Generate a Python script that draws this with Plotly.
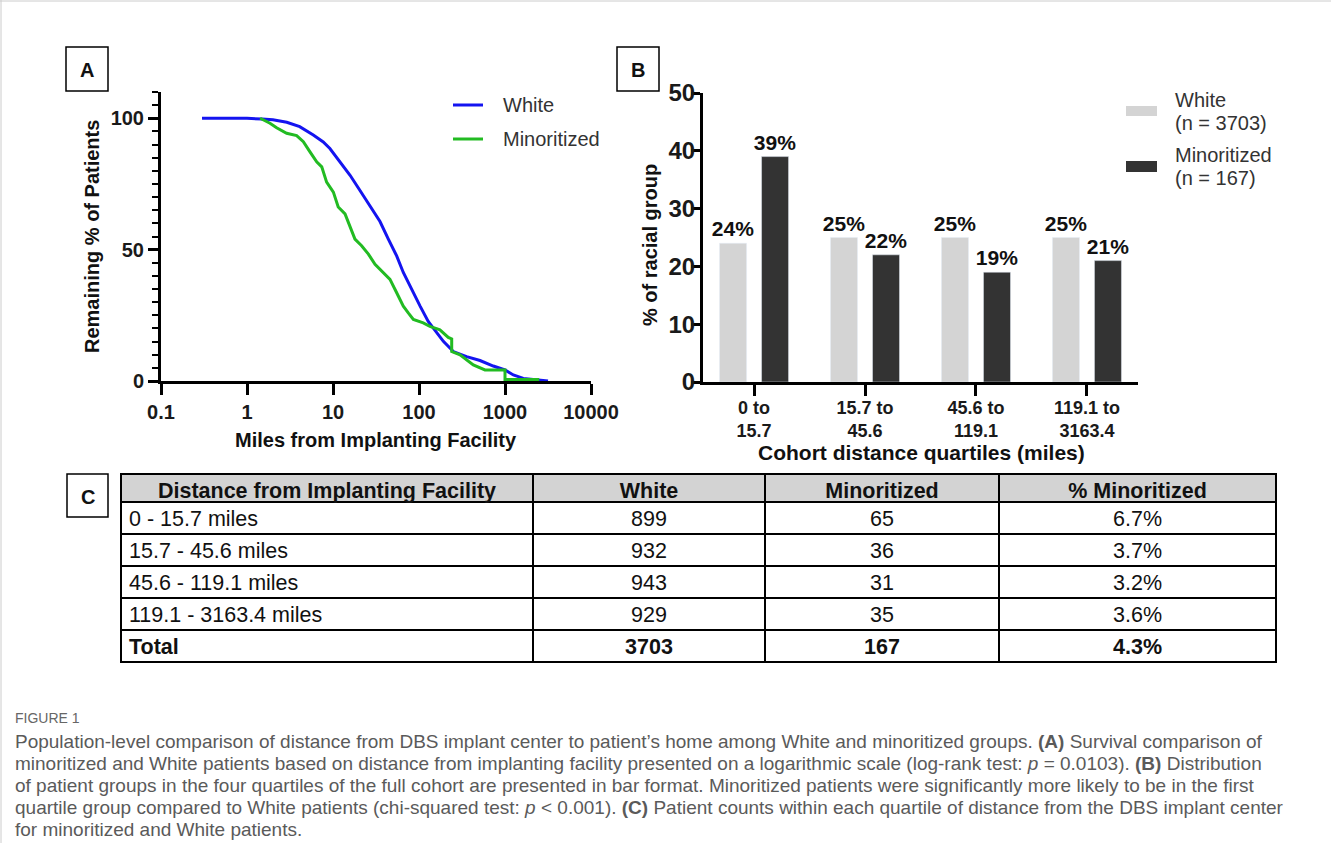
import plotly.graph_objects as go

W, H = 1331, 843
FONT = "Liberation Sans, Arial, sans-serif"

# ---------------- Panel A data (survival-style curves) ----------------
white_miles = [0.3, 1.0, 1.5, 2.0, 2.9, 4.1, 5.9, 7.7, 9.2, 12, 15.8, 20.6, 26.9, 35.2, 44, 55,
               65.7, 82, 103, 128, 153, 192, 251, 358, 512, 731, 1000, 1250, 1634, 3163]
white_pct = [100, 100, 99.7, 99.4, 98.5, 96.8, 93.6, 91, 88.5, 83.4, 78.3, 72.5, 66.8, 60.7, 54, 47.6,
             41.3, 34.9, 28.5, 22.7, 19.5, 15.1, 11.2, 9.3, 7.8, 5.7, 4.2, 2.3, 1.0, 0]
minor_miles = [1.42, 1.85, 2.21, 2.89, 3.78, 4.52, 5.4, 6.46, 7.4, 8.43, 10.1, 11.5, 13.8, 15.8, 18,
               21.5, 25.8, 30.8, 38.5, 46, 55, 65.7, 75, 86, 112, 134, 175, 219, 240, 240, 300, 358,
               428, 585, 955, 1000, 1000, 2500]
minor_pct = [100, 98.1, 96.4, 94.3, 93.4, 91.1, 87.2, 83.4, 81.5, 75.7, 71.9, 66.2, 63.6, 58.5, 54,
             51.5, 48.3, 44.4, 41.3, 38.7, 33.6, 28.5, 25.9, 23.4, 22.1, 20.8, 19.5, 16.6, 16.0, 11.2,
             10, 8, 6.1, 4.2, 4.2, 4.2, 0.6, 0.6]
a_tickvals = [0.1, 1, 10, 100, 1000, 10000]
a_ticktext = ["0.1", "1", "10", "100", "1000", "10000"]

# ---------------- Panel B data ----------------
quartiles = ["0 to<br>15.7", "15.7 to<br>45.6", "45.6 to<br>119.1", "119.1 to<br>3163.4"]
white_share = [24, 25, 25, 25]
minor_share = [39, 22, 19, 21]

# ---------------- Panel C data ----------------
table_header = ["Distance from Implanting Facility", "White", "Minoritized", "% Minoritized"]
dist_labels = ["0 - 15.7 miles", "15.7 - 45.6 miles", "45.6 - 119.1 miles", "119.1 - 3163.4 miles"]
white_counts = [899, 932, 943, 929]
minor_counts = [65, 36, 31, 35]
pct_minor = ["6.7%", "3.7%", "3.2%", "3.6%"]
total_label = "Total"
total_pct = "4.3%"


def px(x):
    return x / W


def py(y):
    return 1 - y / H


fig = go.Figure()

# Panel A traces
fig.add_trace(go.Scatter(x=white_miles, y=white_pct, mode="lines", name="White",
                         line=dict(color="#1414f0", width=3), xaxis="x", yaxis="y",
                         showlegend=False, cliponaxis=False))
fig.add_trace(go.Scatter(x=minor_miles, y=minor_pct, mode="lines", name="Minoritized",
                         line=dict(color="#22bb22", width=3), xaxis="x", yaxis="y",
                         showlegend=False, cliponaxis=False))

# Panel B traces
label_font = dict(family=FONT, size=21, color="#111111", weight="bold")
fig.add_trace(go.Bar(x=quartiles, y=white_share, name="White (n = 3703)", marker_color="#d4d4d4",
                     text=[f"{v}%" for v in white_share], textposition="outside",
                     constraintext="none", textfont=label_font, cliponaxis=False,
                     xaxis="x2", yaxis="y2", showlegend=False))
fig.add_trace(go.Bar(x=quartiles, y=minor_share, name="Minoritized (n = 167)", marker_color="#333333",
                     text=[f"{v}%" for v in minor_share], textposition="outside",
                     constraintext="none", textfont=label_font, cliponaxis=False,
                     xaxis="x2", yaxis="y2", showlegend=False))

# Panel C table: body rows + a separate bold "Total" row
col_widths = [412, 232, 234, 277]
col_align = ["left", "center", "center", "center"]
TX0, TX1 = px(121), px(1276)
HEAD_H, ROW_H = 28, 32
body_top = 474
body_bottom = body_top + HEAD_H + ROW_H * len(dist_labels)
total_row = [total_label, str(sum(white_counts)), str(sum(minor_counts)), total_pct]
line_style = dict(color="black", width=2)

try:
    t_main = go.Table(
        domain=dict(x=[TX0, TX1], y=[py(body_bottom) - 0.01, py(body_top)]),
        columnwidth=col_widths,
        header=dict(values=table_header, fill_color="#d3d3d3", line=line_style,
                    align="center", height=HEAD_H,
                    font=dict(family=FONT, size=21.5, color="#111111", weight="bold")),
        cells=dict(values=[dist_labels, [str(v) for v in white_counts],
                           [str(v) for v in minor_counts], pct_minor],
                   fill_color="white", line=line_style, align=col_align, height=ROW_H,
                   font=dict(family=FONT, size=21.5, color="#111111")))
    t_total = go.Table(
        domain=dict(x=[TX0, TX1], y=[0.1, py(body_bottom)]),
        columnwidth=col_widths,
        header=dict(values=total_row, fill_color="white", line=line_style,
                    align=col_align, height=ROW_H,
                    font=dict(family=FONT, size=21.5, color="#111111", weight="bold")),
        cells=dict(values=[[], [], [], []], fill_color="white", line=line_style))
except Exception:
    t_main = go.Table(
        domain=dict(x=[TX0, TX1], y=[py(body_bottom) - 0.01, py(body_top)]),
        columnwidth=col_widths,
        header=dict(values=[f"<b>{h}</b>" for h in table_header], fill_color="#d3d3d3",
                    line=line_style, align="center", height=HEAD_H,
                    font=dict(family=FONT, size=21.5, color="#111111")),
        cells=dict(values=[dist_labels, [str(v) for v in white_counts],
                           [str(v) for v in minor_counts], pct_minor],
                   fill_color="white", line=line_style, align=col_align, height=ROW_H,
                   font=dict(family=FONT, size=21.5, color="#111111")))
    t_total = go.Table(
        domain=dict(x=[TX0, TX1], y=[0.1, py(body_bottom)]),
        columnwidth=col_widths,
        header=dict(values=[f"<b>{v}</b>" for v in total_row], fill_color="white",
                    line=line_style, align=col_align, height=ROW_H,
                    font=dict(family=FONT, size=21.5, color="#111111")),
        cells=dict(values=[[], [], [], []], fill_color="white", line=line_style))
fig.add_trace(t_main)
fig.add_trace(t_total)

axis_common = dict(showline=True, linecolor="black", linewidth=3, showgrid=False, zeroline=False,
                   ticks="outside", tickcolor="black", tickwidth=3, automargin=False)

fig.update_layout(
    width=W, height=H, margin=dict(l=0, r=0, t=0, b=0, pad=0, autoexpand=False),
    paper_bgcolor="white", plot_bgcolor="white",
    font=dict(family=FONT, color="#111111"),
    barmode="group", bargap=0.243, bargroupgap=0.357,
    xaxis=dict(domain=[px(161), px(591)], type="log", range=[-1, 4], anchor="y",
               tickmode="array", tickvals=a_tickvals, ticktext=a_ticktext, ticklen=11,
               tickfont=dict(size=20, weight="bold", color="#1a1a1a"), **axis_common),
    yaxis=dict(domain=[py(381), py(92)], range=[0, 110], anchor="x",
               tickmode="array", tickvals=[0, 50, 100], ticklen=10,
               tickfont=dict(size=20, weight="bold", color="#1a1a1a"),
               minor=dict(dtick=5, ticks="outside", ticklen=6, tickwidth=2, tickcolor="black"),
               **axis_common),
    xaxis2=dict(domain=[px(703), px(1138)], range=[-0.46, 3.46], anchor="y2", ticklen=11,
                ticklabelstandoff=-4,
                tickfont=dict(size=18, weight="bold", color="#1a1a1a"), **axis_common),
    yaxis2=dict(domain=[py(382), py(93)], range=[0, 50], anchor="x2", dtick=10, ticklen=9,
                ticklabelstandoff=-9,
                tickfont=dict(size=24, weight="bold", color="#1a1a1a"), **axis_common),
)

ann = []
shapes = []


def text(x, y, t, size, bold=False, color="#111111", xanchor="center", yanchor="middle",
         angle=0, family=FONT):
    ann.append(dict(x=px(x), y=py(y), xref="paper", yref="paper", text=t, showarrow=False,
                    xanchor=xanchor, yanchor=yanchor, textangle=angle, align="left",
                    font=dict(size=size, color=color, family=family,
                              weight="bold" if bold else "normal")))


def box(x0, y0, x1, y1, letter):
    shapes.append(dict(type="rect", xref="paper", yref="paper", x0=px(x0), x1=px(x1),
                       y0=py(y0), y1=py(y1), line=dict(color="black", width=1.5)))
    text((x0 + x1) / 2, (y0 + y1) / 2 + 1, letter, 20, bold=True)


# panel letters
box(66, 47, 108, 91, "A")
box(617, 47, 659, 91, "B")
box(67, 474, 108, 517, "C")

# axis titles
text(92, 237, "Remaining % of Patients", 20, bold=True, angle=-90)
text(376, 440, "Miles from Implanting Facility", 20, bold=True)
text(650, 245, "% of racial group", 20, bold=True, angle=-90)
text(921, 452, "Cohort distance quartiles (miles)", 21, bold=True)

# legend A
for yy, col, lab in [(105, "#1414f0", "White"), (139, "#22bb22", "Minoritized")]:
    shapes.append(dict(type="line", xref="paper", yref="paper", x0=px(453), x1=px(483),
                       y0=py(yy), y1=py(yy), line=dict(color=col, width=3)))
    text(501, yy, lab, 20, color="#333333", xanchor="left")

# legend B
for y0, y1, col, l1, l2, t1 in [(106, 116, "#d4d4d4", "White", "(n = 3703)", 100),
                                (161, 172, "#333333", "Minoritized", "(n = 167)", 155)]:
    shapes.append(dict(type="rect", xref="paper", yref="paper", x0=px(1126), x1=px(1157),
                       y0=py(y0), y1=py(y1), fillcolor=col, line=dict(width=0)))
    text(1173, t1, l1, 20, color="#333333", xanchor="left")
    text(1173, t1 + 23, l2, 20, color="#333333", xanchor="left")

# page borders
shapes.append(dict(type="line", xref="paper", yref="paper", x0=px(1), x1=px(1), y0=py(0), y1=py(843),
                   line=dict(color="#cccccc", width=1)))
shapes.append(dict(type="line", xref="paper", yref="paper", x0=px(0), x1=px(1331), y0=py(1), y1=py(1),
                   line=dict(color="#cccccc", width=1)))

# caption
text(13, 718, "FIGURE 1", 14, color="#666666", xanchor="left")
cap_lines = [
    "Population-level comparison of distance from DBS implant center to patient\u2019s home among White and minoritized groups. <b>(A)</b> Survival comparison of",
    "minoritized and White patients based on distance from implanting facility presented on a logarithmic scale (log-rank test: <i>p</i> = 0.0103). <b>(B)</b> Distribution",
    "of patient groups in the four quartiles of the full cohort are presented in bar format. Minoritized patients were significantly more likely to be in the first",
    "quartile group compared to White patients (chi-squared test: <i>p</i> &lt; 0.001). <b>(C)</b> Patient counts within each quartile of distance from the DBS implant center",
    "for minoritized and White patients.",
]
for i, ln in enumerate(cap_lines):
    text(13, 741 + 22 * i, ln, 19, color="#5a5a5a", xanchor="left")

fig.update_layout(annotations=ann, shapes=shapes)

fig.write_html("out.html", config={"displayModeBar": False},
               post_script="document.body.style.margin='0';document.body.style.overflow='hidden';")
